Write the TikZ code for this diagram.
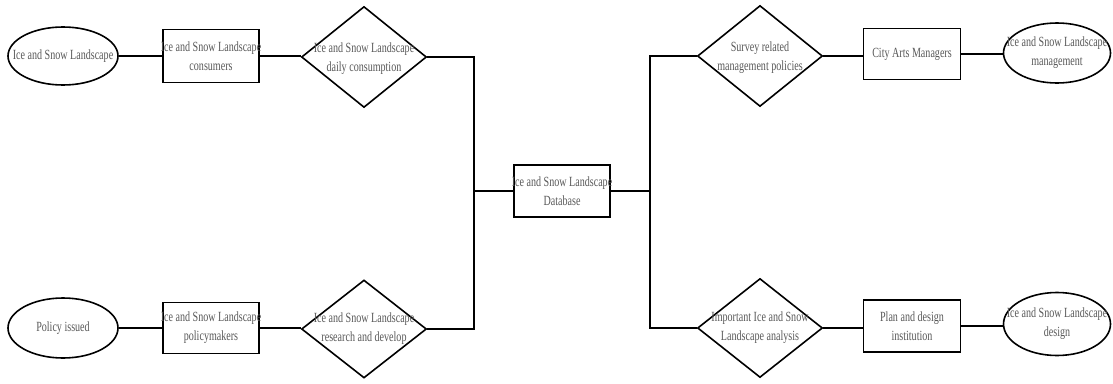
\documentclass[tikz,border=0pt]{standalone}
\usepackage{fontspec}
\setmainfont{Liberation Serif}[FakeStretch=0.72]
\usetikzlibrary{shapes.geometric}
\begin{document}
\begin{tikzpicture}[x=1pt,y=-1pt,
  shp/.style={draw=black,line width=1.6pt,inner sep=0pt,fill=white},
  ell/.style={shp,ellipse},
  box/.style={shp,rectangle},
  dia/.style={shp,diamond},
  txt/.style={text=black!65,font=\fontsize{14}{19}\selectfont,align=center,inner sep=0pt},
  conn/.style={line width=1.6pt}]
\useasboundingbox (0,0) rectangle (1113,383);
% shapes
\node[ell,minimum width=110pt,minimum height=58pt] (e1) at (63,56) {};
\node[box,minimum width=96pt,minimum height=53pt] (r1) at (211,56) {};
\node[dia,minimum width=125pt,minimum height=101pt] (d1) at (364,57) {};
\node[ell,minimum width=110pt,minimum height=60pt] (e2) at (63,328) {};
\node[box,minimum width=96pt,minimum height=51pt] (r2) at (211,328) {};
\node[dia,minimum width=125pt,minimum height=98pt] (d2) at (364,329) {};
\node[box,minimum width=96pt,minimum height=52pt] (db) at (562,191) {};
\node[dia,minimum width=125pt,minimum height=101pt] (d3) at (760,56) {};
\node[box,minimum width=97pt,minimum height=51pt] (r3) at (912,54) {};
\node[ell,minimum width=107pt,minimum height=60pt] (e3) at (1057,53) {};
\node[dia,minimum width=125pt,minimum height=99pt] (d4) at (760,328) {};
\node[box,minimum width=97pt,minimum height=52pt] (r4) at (912,326) {};
\node[ell,minimum width=107pt,minimum height=63pt] (e4) at (1057,324) {};
% texts
\node[txt] (te1) at (e1) {Ice and Snow Landscape};
\node[txt] (tr1) at (r1) {Ice and Snow Landscape\\consumers};
\node[txt] (td1) at ([yshift=-2pt]d1.center) {Ice and Snow Landscape\\daily consumption};
\node[txt] (te2) at (e2) {Policy issued};
\node[txt] (tr2) at (r2) {Ice and Snow Landscape\\policymakers};
\node[txt] (td2) at (d2) {Ice and Snow Landscape\\research and develop};
\node[txt] (tdb) at (db) {Ice and Snow Landscape\\Database};
\node[txt] (td3) at ([yshift=-2pt]d3.center) {Survey related\\management policies};
\node[txt] (tr3) at (r3) {City Arts Managers};
\node[txt] (te3) at (e3) {Ice and Snow Landscape\\management};
\node[txt] (td4) at (d4) {Important Ice and Snow\\Landscape analysis};
\node[txt] (tr4) at (r4) {Plan and design\\institution};
\node[txt] (te4) at (e4) {Ice and Snow Landscape\\design};
% junctions
\coordinate (lj) at (474,191);
\coordinate (rj) at (650,191);
% connectors
\draw[conn] (e1.east) -- (r1.west);
\draw[conn] (r1.east) -- (r1.east -| d1.west);
\draw[conn] (e2.east) -- (r2.west);
\draw[conn] (r2.east) -- (r2.east -| d2.west);
\draw[conn] (d1.east) -| (lj) |- (d2.east);
\draw[conn] (lj) -- (db.west);
\draw[conn] (db.east) -- (rj);
\draw[conn] (d3.west) -| (rj) |- (d4.west);
\draw[conn] (d3.east) -- (d3.east -| r3.west);
\draw[conn] (r3.east) -- (r3.east -| e3.west);
\draw[conn] (d4.east) -- (d4.east -| r4.west);
\draw[conn] (r4.east) -- (r4.east -| e4.west);
\end{tikzpicture}
\end{document}
